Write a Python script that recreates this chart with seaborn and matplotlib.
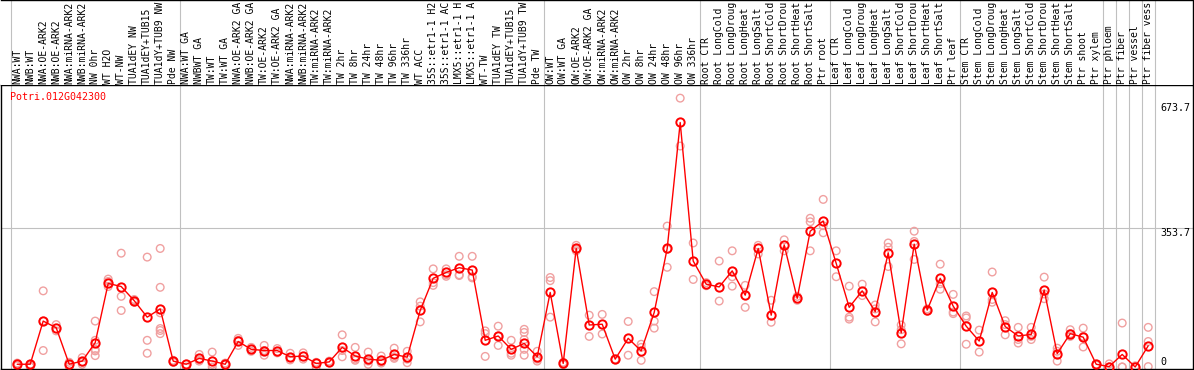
import numpy as np
import matplotlib
matplotlib.use('Agg')
import matplotlib.pyplot as plt
import pandas as pd
import seaborn as sns

gene = 'Potri.012G042300'

samples = ['NWA:WT', 'NWB:WT', 'NWA:OE-ARK2', 'NWB:OE-ARK2', 'NWA:miRNA-ARK2', 'NWB:miRNA-ARK2',
           'NW 0hr', 'WT H2O', 'WT-NW', 'TUA1dEY NW', 'TUA1dEY+TUB15 NW', 'TUA1dY+TUB9 NW', 'Pde NW',
           'NWA:WT GA', 'NWBWT GA', 'TW:WT', 'TW:WT GA', 'NWA:OE-ARK2 GA', 'NWB:OE-ARK2 GA',
           'TW:OE-ARK2', 'TW:OE-ARK2 GA', 'NWA:miRNA-ARK2 GA', 'NWB:miRNA-ARK2 GA', 'TW:miRNA-ARK2',
           'TW:miRNA-ARK2 GA', 'TW 2hr', 'TW 8hr', 'TW 24hr', 'TW 48hr', 'TW 96hr', 'TW 336hr',
           'WT ACC', '35S::etr1-1 H2O', '35S::etr1-1 ACC', 'LMX5::etr1-1 H2O', 'LMX5::etr1-1 ACC',
           'WT-TW', 'TUA1dEY TW', 'TUA1dEY+TUB15 TW', 'TUA1dY+TUB9 TW', 'Pde TW',
           'OW:WT', 'OW:WT GA', 'OW:OE-ARK2', 'OW:OE-ARK2 GA', 'OW:miRNA-ARK2', 'OW:miRNA-ARK2 GA',
           'OW 2hr', 'OW 8hr', 'OW 24hr', 'OW 48hr', 'OW 96hr', 'OW 336hr',
           'Root CTR', 'Root LongCold', 'Root LongDrought', 'Root LongHeat', 'Root LongSalt',
           'Root ShortCold', 'Root ShortDrought', 'Root ShortHeat', 'Root ShortSalt', 'Ptr root',
           'Leaf CTR', 'Leaf LongCold', 'Leaf LongDrought', 'Leaf LongHeat', 'Leaf LongSalt',
           'Leaf ShortCold', 'Leaf ShortDrought', 'Leaf ShortHeat', 'Leaf ShortSalt', 'Ptr leaf',
           'Stem CTR', 'Stem LongCold', 'Stem LongDrought', 'Stem LongHeat', 'Stem LongSalt',
           'Stem ShortCold', 'Stem ShortDrought', 'Stem ShortHeat', 'Stem ShortSalt', 'Ptr shoot',
           'Ptr xylem', 'Ptr phloem', 'Ptr fiber', 'Ptr vessel', 'Ptr fiber vessel']

# mean expression per sample (red line)
means = [7, 7, 117, 100, 7, 15, 62, 213, 205, 169, 127, 148, 15,
         7, 22, 15, 7, 65, 45, 42, 42, 26, 28, 9, 13, 50, 28, 20, 17, 32, 25,
         144, 226, 241, 253, 247, 68, 79, 45, 60, 26,
         190, 9, 302, 107, 109, 20, 73, 41, 139, 302, 623, 270,
         211, 204, 245, 183, 302, 132, 311, 175, 346, 372,
         264, 152, 194, 141, 291, 87, 313, 145, 226, 155,
         104, 66, 190, 103, 79, 83, 196, 34, 85, 76, 7,
         1, 32, 0, 54]

# replicate values per sample (pale circles)
reps = [[10, 3, 7], [7, 0, 3], [194, 42, 117], [108, 92], [12, 0, 5], [24, 7, 12],
        [117, 68, 45, 41, 29], [224, 218, 205], [290, 180, 144], [172, 165, 169],
        [280, 68, 35], [302, 203, 138, 98, 93, 85], [12, 17],
        [7, 0], [32, 18, 15], [38, 0, 7], [10, 5], [73, 55, 68], [50, 40, 45],
        [55, 30, 42], [47, 36], [35, 18, 24], [36, 20], [12, 0], [15, 11],
        [82, 26, 42], [50, 17, 20], [38, 15, 7], [28, 10, 13], [48, 25, 22], [40, 11, 20],
        [166, 155, 115], [250, 215, 208], [250, 235, 231], [282, 235, 233], [282, 230, 227],
        [92, 85, 27], [104, 55, 79], [68, 35, 30], [96, 88, 70, 45, 30], [40, 15, 20],
        [228, 220, 127], [6, 12], [310, 300, 296], [132, 78], [134, 84], [20, 18],
        [116, 30], [58, 50, 17], [192, 117, 99], [359, 254, 300], [685, 563], [316, 223],
        [215, 207], [270, 168], [296, 230, 206], [208, 152], [310, 288], [170, 114],
        [324, 296], [180, 170], [379, 370, 296], [427, 360, 342],
        [296, 230], [206, 127, 122], [211, 182], [158, 148, 115], [316, 305, 256],
        [107, 95, 59], [346, 320, 274], [148, 142], [262, 212, 198], [185, 140, 136],
        [130, 125, 58], [94, 38], [242, 172, 165], [118, 108, 82], [101, 70, 61],
        [101, 78, 70], [229, 186, 174], [48, 40, 15], [95, 85, 78], [99, 78, 51], [7, 5],
        [8, 0], [112, 0, 0], [3, 0], [101, 65, 1]]

# sample counts after which a separator is drawn
group_ends = [0, 13, 41, 53, 63, 73, 84, 85, 86, 87, 88]
yticks = [0, 353.7, 673.7]
label_chars = 14  # the header only has room for this many characters

df_mean = pd.DataFrame({'pos': np.arange(len(means)), 'val': means})
df_rep = pd.DataFrame([(i, v) for i, r in enumerate(reps) for v in r], columns=['pos', 'val'])

sns.set_theme(style='white')
plt.rcParams['font.family'] = ['DejaVu Sans Mono']

W, H = 1194, 370
fig = plt.figure(figsize=(W / 100, H / 100), dpi=100)


def box(x0, y0, x1, y1):
    return [x0 / W, 1 - y1 / H, (x1 - x0) / W, (y1 - y0) / H]


ax = fig.add_axes(box(1, 85, 1193, 369))
hd = fig.add_axes(box(1, 0, 1193, 85))

xlim = ((1 - 17.2) / 13, (1193 - 17.2) / 13)
grid_c = '#c0c0c0'

for a in (ax, hd):
    a.set_xlim(*xlim)
    a.set_xticks([])
    a.set_yticks([])
    a.set_xlabel('')
    a.set_ylabel('')
    for g in group_ends:
        a.axvline(g - 0.5, color=grid_c, lw=0.8, zorder=0)
    for s in a.spines.values():
        s.set_color('black')
        s.set_linewidth(1.0)

hd.set_ylim(85, 0)
hd.spines['left'].set_visible(False)
hd.spines['bottom'].set_visible(False)
for i, name in enumerate(samples):
    hd.text(i, 83.8, name[:label_chars].rstrip(), rotation=90, ha='center', va='bottom',
            fontsize=7.0, color='black')

ax.set_ylim(-5.1, 718.5)
ax.axhline(353.7, color=grid_c, lw=0.8, zorder=0)

sns.scatterplot(data=df_rep, x='pos', y='val', ax=ax, marker='o', s=30,
                facecolors='none', edgecolor='#f0a0a0', linewidth=1.0, zorder=2, legend=False)
sns.lineplot(data=df_mean, x='pos', y='val', ax=ax, color='red', lw=1.0, marker='o',
             markersize=6, markerfacecolor='none', markeredgecolor='red',
             markeredgewidth=1.4, zorder=3, legend=False)
ax.set_xlabel('')
ax.set_ylabel('')

ax.text(8.7 / 1192, 1 - 7 / 284, gene, transform=ax.transAxes, color='red',
        fontsize=7.2, ha='left', va='top')

tr = ax.get_yaxis_transform()
for v in yticks:
    ax.text((1160 - 1) / 1192, v, f'{v:g}', transform=tr, fontsize=7.2, color='black',
            ha='left', va='bottom' if v == 0 else 'top')

fig.savefig('out.png', dpi=100)
